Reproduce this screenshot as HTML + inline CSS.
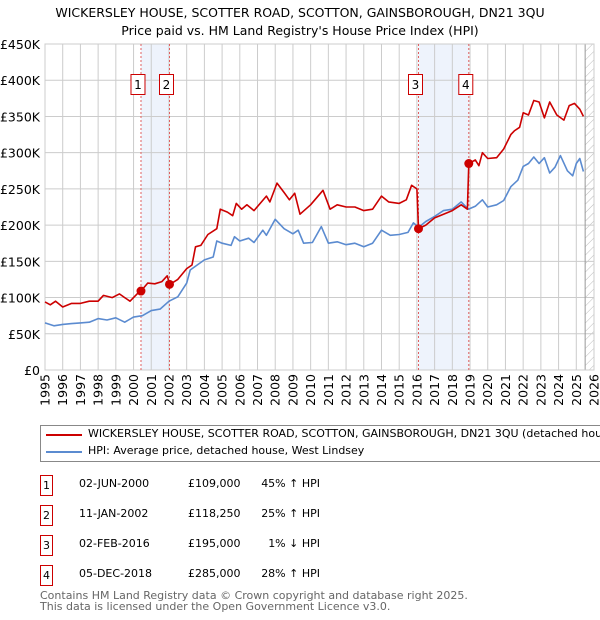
<!DOCTYPE html>
<html><head><meta charset="utf-8"><style>
body{margin:0;background:#fff;font-family:"DejaVu Sans","Liberation Sans",sans-serif;}
#wrap{position:relative;width:600px;height:620px;overflow:hidden;}
.t{position:absolute;font-size:12px;color:#000;white-space:nowrap;}
</style></head><body><div id="wrap">
<svg id="chart" width="600" height="410" style="position:absolute;left:0;top:0"></svg>
<div style="position:absolute;left:40px;top:425px;width:600px;height:35px;border:1px solid #888;">
 <div><div style="position:absolute;left:5px;top:8px;width:36px;height:2px;background:#cc0000"></div><div class="t" style="left:47px;top:1px;font-size:11px">WICKERSLEY HOUSE, SCOTTER ROAD, SCOTTON, GAINSBOROUGH, DN21 3QU (detached house)</div></div>
 <div><div style="position:absolute;left:5px;top:25px;width:36px;height:2px;background:#5b8bd0"></div><div class="t" style="left:47px;top:18px;font-size:11px">HPI: Average price, detached house, West Lindsey</div></div>
</div>
<div id="table"></div>
<div class="t" style="left:40px;top:590px;color:#666;font-size:11px;line-height:11px">Contains HM Land Registry data © Crown copyright and database right 2025.<br>This data is licensed under the Open Government Licence v3.0.</div>
</div>
<script>
const hpiYears=[1995,1995.5,1996,1996.5,1997,1997.5,1998,1998.5,1999,1999.5,2000,2000.5,2001,2001.5,2002,2002.5,2003,2003.2,2004,2004.5,2004.7,2005,2005.5,2005.7,2006,2006.5,2006.8,2007.3,2007.5,2008,2008.5,2009,2009.3,2009.6,2010.1,2010.6,2011,2011.5,2012,2012.5,2013,2013.5,2014,2014.5,2015,2015.5,2015.8,2016.1,2016.5,2017,2017.5,2018,2018.5,2018.9,2019.3,2019.7,2020,2020.5,2020.9,2021.3,2021.7,2022,2022.3,2022.6,2022.9,2023.2,2023.5,2023.8,2024.1,2024.5,2024.8,2025,2025.2,2025.4];
const hpiValues=[65,61,63,64,65,66,71,69,72,66,73,75,82,84,95,101,120,138,152,156,178,175,172,184,178,182,176,193,186,208,195,188,193,175,176,198,175,177,173,175,170,175,193,186,187,190,203,197,205,212,220,222,232,222,226,235,225,228,234,253,262,281,285,294,285,293,272,280,296,275,268,285,292,274];
const ppYears=[1995,1995.3,1995.6,1996,1996.5,1997,1997.5,1998,1998.3,1998.8,1999.2,1999.5,1999.8,2000.2,2000.42,2000.8,2001.2,2001.6,2001.9,2002.04,2002.5,2003,2003.3,2003.5,2003.8,2004.2,2004.7,2004.9,2005.3,2005.6,2005.8,2006.1,2006.4,2006.8,2007.5,2007.7,2008.1,2008.5,2008.8,2009.1,2009.4,2010,2010.7,2011.1,2011.5,2012,2012.5,2013,2013.5,2014,2014.4,2015,2015.4,2015.7,2016.0,2016.09,2016.5,2017,2017.5,2018,2018.5,2018.85,2018.93,2019.3,2019.5,2019.7,2020,2020.5,2020.9,2021.3,2021.5,2021.8,2022,2022.3,2022.6,2022.9,2023.2,2023.5,2023.9,2024.3,2024.6,2024.9,2025.2,2025.4];
const ppValues=[94,90,95,87,92,92,95,95,103,100,105,100,95,105,109,120,119,122,130,118,125,140,145,170,172,187,195,222,218,213,230,222,228,220,240,232,258,245,235,244,215,228,248,222,228,225,225,220,222,240,232,230,235,255,250,195,200,210,215,220,228,222,285,290,282,300,292,293,305,325,330,335,355,352,372,370,348,370,352,345,365,368,360,350];
const saleYears=[2000.42,2002.03,2016.09,2018.93];
const saleValues=[109,118.25,195,285];
const saleDates=["02-JUN-2000","11-JAN-2002","02-FEB-2016","05-DEC-2018"];
const salePrices=["£109,000","£118,250","£195,000","£285,000"];
const saleHpi=["45% ↑ HPI","25% ↑ HPI","1% ↓ HPI","28% ↑ HPI"];
const yTicks=[0,50,100,150,200,250,300,350,400,450];
const yLabels=["£0","£50K","£100K","£150K","£200K","£250K","£300K","£350K","£400K","£450K"];
const xTicks=[1995,1996,1997,1998,1999,2000,2001,2002,2003,2004,2005,2006,2007,2008,2009,2010,2011,2012,2013,2014,2015,2016,2017,2018,2019,2020,2021,2022,2023,2024,2025,2026];

const X0=45,X1=594,Y0=370,Y1=44;
const xs=y=>X0+(y-1995)/31*(X1-X0);
const ys=v=>Y0-v/450*(Y0-Y1);
const NS="http://www.w3.org/2000/svg";
const svg=document.getElementById('chart');
function mk(tag,attrs,parent){const e=document.createElementNS(NS,tag);for(const k in attrs)e.setAttribute(k,attrs[k]);(parent||svg).appendChild(e);return e;}
let t=mk('text',{x:300,y:17,'text-anchor':'middle','font-size':12.5});t.textContent="WICKERSLEY HOUSE, SCOTTER ROAD, SCOTTON, GAINSBOROUGH, DN21 3QU";


t=mk('text',{x:300,y:35,'text-anchor':'middle','font-size':12.5});t.textContent="Price paid vs. HM Land Registry's House Price Index (HPI)";


const defs=mk('defs',{});
const pat=mk('pattern',{id:'hatch',width:6,height:6,patternUnits:'userSpaceOnUse',patternTransform:'rotate(45)'},defs);
mk('line',{x1:0,y1:0,x2:0,y2:6,stroke:'#bbb','stroke-width':1},pat);
for(const [a,b] of [[0,1],[2,3]]){const r=mk('rect',{x:xs(saleYears[a]),y:Y1,width:xs(saleYears[b])-xs(saleYears[a]),height:Y0-Y1,fill:'#eef3fc'});

}
const hr=mk('rect',{x:xs(2025.5),y:Y1,width:X1-xs(2025.5),height:Y0-Y1,fill:'url(#hatch)'});


yTicks.forEach((v,i)=>{mk('line',{x1:X0,x2:X1,y1:ys(v),y2:ys(v),stroke:'#ccc'});
const l=mk('text',{x:40,y:ys(v)+5,'text-anchor':'end','font-size':12.5});l.textContent=yLabels[i];

});
xTicks.forEach(y=>{mk('line',{x1:xs(y),x2:xs(y),y1:Y1,y2:Y0,stroke:'#ccc'});
const l=mk('text',{x:0,y:0,'text-anchor':'end','font-size':12.5,transform:`translate(${xs(y)+4.5},${Y0+4}) rotate(-90)`});l.textContent=y;

});
mk('line',{x1:xs(2025.5),x2:xs(2025.5),y1:Y1,y2:Y0,stroke:'#999'});
mk('rect',{x:X0,y:Y1,width:X1-X0,height:Y0-Y1,fill:'none',stroke:'#ccc'});
saleYears.forEach((y,i)=>{mk('line',{x1:xs(y),x2:xs(y),y1:Y1,y2:Y0,stroke:'#e06060','stroke-dasharray':'2,2','stroke-width':1});
const g=mk('g',{});


const bx=xs(y)-10;
mk('rect',{x:bx,y:74.5,width:14,height:20,fill:'#fff',stroke:'#cc0000'},g);
const tx=mk('text',{x:bx+7,y:89,'text-anchor':'middle','font-size':12},g);tx.textContent=i+1;
});
function path(xa,va,col,name){const d=xa.map((y,i)=>(i?'L':'M')+xs(y).toFixed(1)+','+ys(va[i]).toFixed(1)).join('');
const p=mk('path',{d:d,fill:'none',stroke:col,'stroke-width':1.6,'stroke-linejoin':'round'});

}
path(hpiYears,hpiValues,'#5b8bd0','hpi-line');
path(ppYears,ppValues,'#cc0000','price-paid-line');
saleYears.forEach((y,i)=>{const c=mk('circle',{cx:xs(y),cy:ys(saleValues[i]),r:4.5,fill:'#cc0000'});

});
const tb=document.getElementById('table');
saleDates.forEach((d,i)=>{const y=475+i*30;const row=document.createElement('div');


row.innerHTML=`<div style="position:absolute;left:40px;top:${y}px;width:11px;height:19px;border:1px solid #cc0000;font-size:11px;text-align:center;line-height:19px">${i+1}</div>
<div class="t" style="left:79px;top:${y+2}px;font-size:11px">${d}</div>
<div class="t" style="left:188px;top:${y+2}px;font-size:11px;width:42px;text-align:right">${salePrices[i]}</div>
<div class="t" style="left:260px;top:${y+2}px;font-size:11px;width:60px;text-align:right">${saleHpi[i]}</div>`;
tb.appendChild(row);});
</script></body></html>
